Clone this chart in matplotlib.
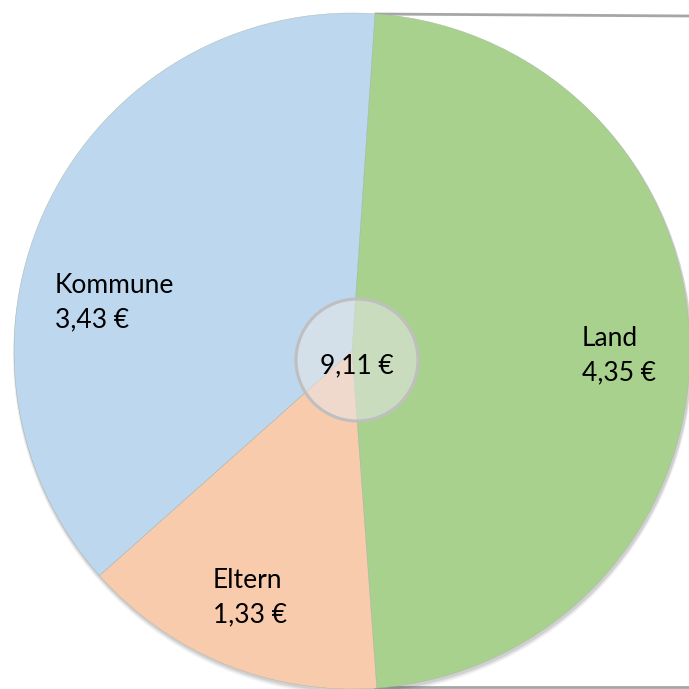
import matplotlib.pyplot as plt
from matplotlib.patches import Circle

# data
categories = ["Land", "Eltern", "Kommune"]
values = [4.35, 1.33, 3.43]
colors = ["#A9D18E", "#F8CBAD", "#BDD7EE"]
total_label = "9,11 €"

# pie centre and radius in pixels of the 689x689 picture
cx, cy, r_px = 352, 351, 338


def to_data(px, py):
    # pixel position -> data units (radius = 1)
    return (px - cx) / r_px, (cy - py) / r_px


# label anchor points (pixels, left edge / vertical middle)
label_pos = {"Land": (582, 356), "Eltern": (213, 598), "Kommune": (55, 303)}

plt.rcParams['font.family'] = ['Lato', 'DejaVu Sans']

fig = plt.figure(figsize=(6.89, 6.89), dpi=100)
ax = fig.add_axes([0, 0, 1, 1])
ax.set_aspect('equal')
ax.axis('off')

# frame lines partly hidden behind the pie
x0, y0 = to_data(376, 14)
x1, y1 = to_data(689, 16)
ax.plot([x0, x1], [y0, y1], color="#A6A6A6", lw=2, zorder=0)
x0, y0 = to_data(375, 687)
x1, y1 = to_data(689, 687)
ax.plot([x0, x1], [y0, y1], color="#A6A6A6", lw=2, zorder=0)

# soft shadow
for k, a in [(4, 0.06), (3, 0.08), (2, 0.12)]:
    ax.add_patch(Circle((1 / r_px, -k / r_px), 1 + k / r_px / 2,
                        facecolor="#404040", edgecolor="none", alpha=a, zorder=1))

wedges, _ = ax.pie(values, colors=colors, startangle=86.1, counterclock=False,
                   radius=1, wedgeprops=dict(edgecolor="#a8b4a8", linewidth=0.3))
for w in wedges:
    w.set_zorder(2)

# labels
for cat, val in zip(categories, values):
    px, py = label_pos[cat]
    x, y = to_data(px, py)
    txt = cat + "\n" + f"{val:.2f}".replace(".", ",") + " €"
    ax.text(x, y, txt, ha="left", va="center", fontsize=19,
            linespacing=1.45, color="black", zorder=5)

# centre circle with total
mx, my = to_data(357, 360)
ax.add_patch(Circle((mx, my), 61 / r_px, facecolor="#E6E6E6", alpha=0.55,
                    edgecolor="none", zorder=3))
ax.add_patch(Circle((mx, my), 61 / r_px, facecolor="none",
                    edgecolor="#BFBFBF", linewidth=2.2, zorder=4))
tx, ty = to_data(357, 366)
ax.text(tx, ty, total_label, ha="center", va="center", fontsize=19,
        color="black", zorder=5)

ax.set_xlim(-cx / r_px, (689 - cx) / r_px)
ax.set_ylim(-(689 - cy) / r_px, cy / r_px)

fig.savefig("out.png", dpi=100, facecolor="white")
